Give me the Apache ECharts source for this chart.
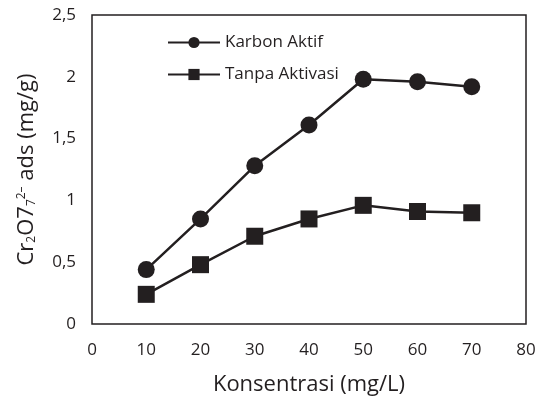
<!DOCTYPE html>
<html><head><meta charset="utf-8">
<script src="https://cdn.jsdelivr.net/npm/echarts@6/dist/echarts.min.js"></script>
<style>html,body{margin:0;padding:0;background:#fff}#c{width:546px;height:401px}</style>
</head><body><div id="c"></div>
<script>
const xValues = [10, 20, 30, 40, 50, 60, 70];
const karbonAktif = [0.44, 0.85, 1.28, 1.61, 1.98, 1.96, 1.92];
const tanpaAktivasi = [0.24, 0.48, 0.71, 0.85, 0.96, 0.91, 0.90];
const seriesNames = ['Karbon Aktif', 'Tanpa Aktivasi'];
const col = '#231f20';
const font = 'Open Sans';
const chart = echarts.init(document.getElementById('c'));
chart.setOption({
  animation: false,
  textStyle: {fontFamily: font},
  grid: {left: 92, right: 20, top: 15, bottom: 76, show: true, borderColor: col, borderWidth: 1.5},
  legend: {
    orient: 'vertical', left: 162, top: 29, itemGap: 15, itemWidth: 52, itemHeight: 14,
    textStyle: {fontFamily: font, fontSize: 17, color: col},
    data: seriesNames
  },
  xAxis: {
    type: 'value', min: 0, max: 80, interval: 10,
    axisLine: {show: false}, axisTick: {show: false}, splitLine: {show: false},
    axisLabel: {fontSize: 17, color: col, margin: 18, fontFamily: font},
    name: 'Konsentrasi (mg/L)', nameLocation: 'middle', nameGap: 50,
    nameTextStyle: {fontSize: 22, color: col, fontFamily: font}
  },
  yAxis: {
    type: 'value', min: 0, max: 2.5, interval: 0.5,
    axisLine: {show: false}, axisTick: {show: false}, splitLine: {show: false},
    axisLabel: {fontSize: 17, color: col, margin: 16, fontFamily: font,
      formatter: v => String(v).replace('.', ',')},
    name: '{n|Cr}{sub|2}{n|O7}{sub|7}{sup|2–}{n| ads (mg/g)}', nameLocation: 'middle', nameGap: 54,
    nameTextStyle: {fontSize: 22, color: col, fontFamily: font,
      rich: {
        n: {fontSize: 22, color: col, fontFamily: font},
        sub: {fontSize: 12, color: col, fontFamily: font, verticalAlign: 'bottom', padding: [10, 0, 0, 0]},
        sup: {fontSize: 12, color: col, fontFamily: font, verticalAlign: 'top', padding: [0, 0, 10, 0]}
      }}
  },
  series: [
    {name: seriesNames[0], type: 'line', data: xValues.map((x, i) => [x, karbonAktif[i]]),
     symbol: 'circle', symbolSize: 17, lineStyle: {color: col, width: 2.5},
     itemStyle: {color: col}},
    {name: seriesNames[1], type: 'line', data: xValues.map((x, i) => [x, tanpaAktivasi[i]]),
     symbol: 'rect', symbolSize: 17, lineStyle: {color: col, width: 2.5},
     itemStyle: {color: col}}
  ]
});
</script></body></html>
